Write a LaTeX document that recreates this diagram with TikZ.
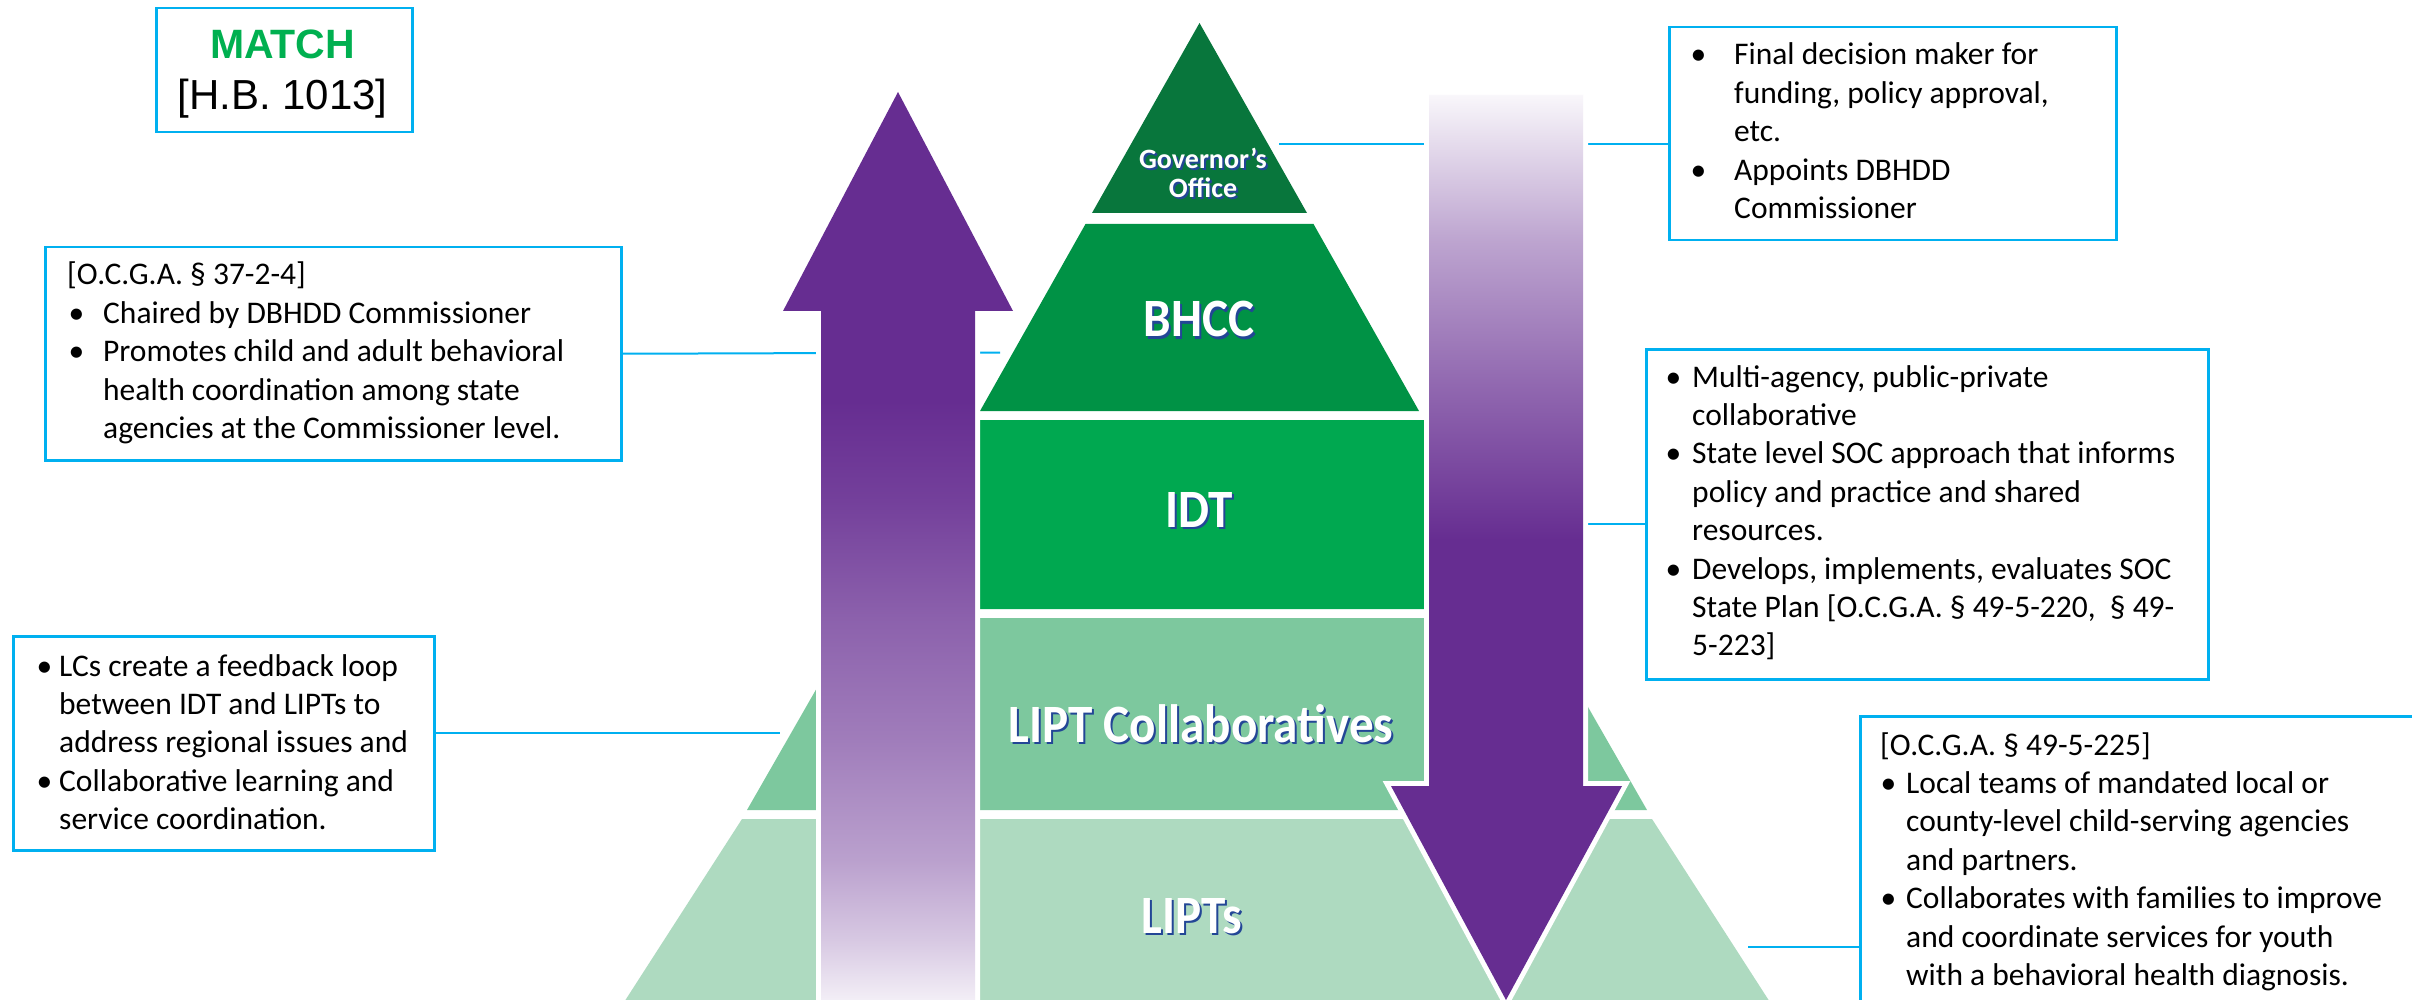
\documentclass[tikz,border=0pt]{standalone}
\usepackage{fontspec}
\setmainfont{Carlito}
\newfontfamily\pyrfont[FakeStretch=0.91]{Carlito}
\newfontfamily\arialfont{Liberation Sans}
\definecolor{apurple}{RGB}{102,45,145}
\definecolor{govgreen}{RGB}{8,118,60}
\definecolor{bhccgreen}{RGB}{0,146,69}
\definecolor{idtgreen}{RGB}{0,168,80}
\definecolor{liptcgreen}{RGB}{125,200,158}
\definecolor{liptsgreen}{RGB}{174,218,192}
\definecolor{cyanline}{RGB}{0,176,240}
\definecolor{matchgreen}{RGB}{0,176,80}
\definecolor{shadowblue}{RGB}{35,70,150}
\pgfdeclareverticalshading{upfade}{100bp}{color(0bp)=(apurple!8); color(25bp)=(apurple!8); color(28.3bp)=(apurple!26); color(32.7bp)=(apurple!45); color(39.3bp)=(apurple!62); color(45.9bp)=(apurple!75); color(52.5bp)=(apurple!91); color(58bp)=(apurple); color(100bp)=(apurple)}
\pgfdeclareverticalshading{downfade}{100bp}{color(0bp)=(apurple); color(50.4bp)=(apurple); color(59.25bp)=(apurple!71); color(67bp)=(apurple!43); color(75bp)=(apurple!4); color(100bp)=(apurple!4)}
\newcommand\bltext[1]{\hbox{#1}}
\newcommand\blitem[3]{\hbox{\hspace*{#1}\makebox[#2][l]{•}#3}}
\newcommand\blcont[2]{\hbox{\hspace*{#1}#2}}
\newcommand\shadowed[1]{\makebox[0pt][l]{\kern2pt\raisebox{-2pt}{\textcolor{shadowblue}{#1}}}\textcolor{white}{#1}}
\newcommand\ctrline[1]{\hbox to 0pt{\hss\shadowed{#1}\hss}}
\tikzset{
  infobox/.style={draw=cyanline, line width=2.5pt, fill=white, inner sep=0pt, anchor=north west},
  boxtext/.style={anchor=base west, inner sep=0pt, font=\fontsize{31.5pt}{38.4pt}\selectfont},
  pyrlabel/.style={anchor=base, inner sep=0pt, font=\pyrfont\bfseries\fontsize{54pt}{60pt}\selectfont},
  govlabel/.style={anchor=base, inner sep=0pt, font=\bfseries\fontsize{28pt}{29pt}\selectfont},
  connector/.style={draw=cyanline, line width=2pt},
  arrowrim/.style={draw=white, line width=10pt, line join=miter}
}
\begin{document}
\begin{tikzpicture}[x=1pt,y=-1pt]
\useasboundingbox (0,0) rectangle (2412,1000);
\clip (0,0) rectangle (2412,1000);
\fill[white] (0,0) rectangle (2412,1000);

% pyramid bands
\fill[govgreen] (1199.5,23) -- (1307,213) -- (1092,213) -- cycle;
\fill[bhccgreen] (1085.5,224) -- (1313.5,224) -- (1419,411) -- (980,411) -- cycle;
\fill[idtgreen] (974.5,420) -- (1424.5,420) -- (1531.5,609) -- (867.5,609) -- cycle;
\fill[liptcgreen] (857,618) -- (1537,618) -- (1647,810) -- (747,810) -- cycle;
\fill[liptsgreen] (742,819) -- (1652,819) -- (1775,1010) -- (619,1010) -- cycle;

% boxes (nodes)
\node[infobox, minimum width=256pt, minimum height=124pt] (matchbox) at (155,7) {};
\node[infobox, minimum width=576pt, minimum height=213pt] (boxA) at (44,246) {};
\node[infobox, minimum width=447pt, minimum height=213pt] (boxB) at (1668,26) {};
\node[infobox, minimum width=562pt, minimum height=330pt] (boxC) at (1645,348) {};
\node[infobox, minimum width=421pt, minimum height=214pt] (boxD) at (12,635) {};
\node[infobox, minimum width=600pt, minimum height=320pt] (boxE) at (1859,715) {};

% connector end points at the pyramid
\coordinate (govR) at (1279,144);
\coordinate (bhccL) at (1000,352.5);
\coordinate (idtR) at (1490,524);
\coordinate (liptcL) at (780,733);
\coordinate (liptsR) at (1748,947);

\draw[connector] (govR) -- (boxB.west |- govR);
\draw[connector] (boxA.east) -- (bhccL);
\draw[connector] (idtR) -- (boxC.west |- idtR);
\draw[connector] (liptcL -| boxD.east) -- (liptcL);
\draw[connector] (liptsR) -- (liptsR -| boxE.west);

% up arrow
\path[arrowrim] (898,92) -- (1013,311) -- (975,311) -- (975,1000) -- (821,1000) -- (821,311) -- (783,311) -- cycle;
\shade[shading=upfade] (898,92) -- (1013,311) -- (975,311) -- (975,1000) -- (821,1000) -- (821,311) -- (783,311) -- cycle;
% down arrow
\path[arrowrim] (1429,95) -- (1583,95) -- (1583,786) -- (1622,786) -- (1506,1000) -- (1391,786) -- (1429,786) -- cycle;
\shade[shading=downfade] (1429,95) -- (1583,95) -- (1583,786) -- (1622,786) -- (1506,1000) -- (1391,786) -- (1429,786) -- cycle;

% pyramid labels
\node[govlabel] (gov) at (1203,169) {\vtop{\ctrline{Governor’s}\ctrline{Office}}};
\node[pyrlabel] (bhcc) at (1199,337) {\shadowed{BHCC}};
\node[pyrlabel] (idt) at (1199,527) {\shadowed{IDT}};
\node[pyrlabel] (liptc) at (1201,742) {\shadowed{LIPT Collaboratives}};
\node[pyrlabel] (lipts) at (1192,933) {\shadowed{LIPTs}};

% MATCH box text
\node[anchor=base, inner sep=0pt, font=\arialfont\bfseries\fontsize{41pt}{45pt}\selectfont, text=matchgreen] (matcht) at (282.5,59) {MATCH};
\node[anchor=base, inner sep=0pt, font=\arialfont\fontsize{42pt}{46pt}\selectfont] (hbt) at (282.5,110) {[H.B. 1013]};

% box texts
\node[boxtext] (textA) at (67,285) {\vtop{%
  \bltext{[O.C.G.A. § 37-2-4]}
  \blitem{1.5pt}{34.5pt}{Chaired by DBHDD Commissioner}
  \blitem{1.5pt}{34.5pt}{Promotes child and adult behavioral}
  \blcont{36pt}{health coordination among state}
  \blcont{36pt}{agencies at the Commissioner level.}}};

\node[boxtext] (textB) at (1690.5,65) {\vtop{%
  \blitem{0pt}{43.5pt}{Final decision maker for}
  \blcont{43.5pt}{funding, policy approval,}
  \blcont{43.5pt}{etc.}
  \blitem{0pt}{43.5pt}{Appoints DBHDD}
  \blcont{43.5pt}{Commissioner}}};

\node[boxtext] (textC) at (1665.5,387) {\vtop{%
  \blitem{0pt}{26.5pt}{Multi-agency, public-private}
  \blcont{26.5pt}{collaborative}
  \blitem{0pt}{26.5pt}{State level SOC approach that informs}
  \blcont{26.5pt}{policy and practice and shared}
  \blcont{26.5pt}{resources.}
  \blitem{0pt}{26.5pt}{Develops, implements, evaluates SOC}
  \blcont{26.5pt}{State Plan [O.C.G.A. § 49-5-220, \ § 49-}
  \blcont{26.5pt}{5-223]}}};

\node[boxtext] (textD) at (36.5,676) {\vtop{%
  \blitem{0pt}{22.5pt}{LCs create a feedback loop}
  \blcont{22.5pt}{between IDT and LIPTs to}
  \blcont{22.5pt}{address regional issues and}
  \blitem{0pt}{22.5pt}{Collaborative learning and}
  \blcont{22.5pt}{service coordination.}}};

\node[boxtext] (textE) at (1880,755) {\vtop{%
  \bltext{[O.C.G.A. § 49-5-225]}
  \blitem{0.5pt}{25.5pt}{Local teams of mandated local or}
  \blcont{26pt}{county-level child-serving agencies}
  \blcont{26pt}{and partners.}
  \blitem{0.5pt}{25.5pt}{Collaborates with families to improve}
  \blcont{26pt}{and coordinate services for youth}
  \blcont{26pt}{with a behavioral health diagnosis.}}};
\end{tikzpicture}
\end{document}
